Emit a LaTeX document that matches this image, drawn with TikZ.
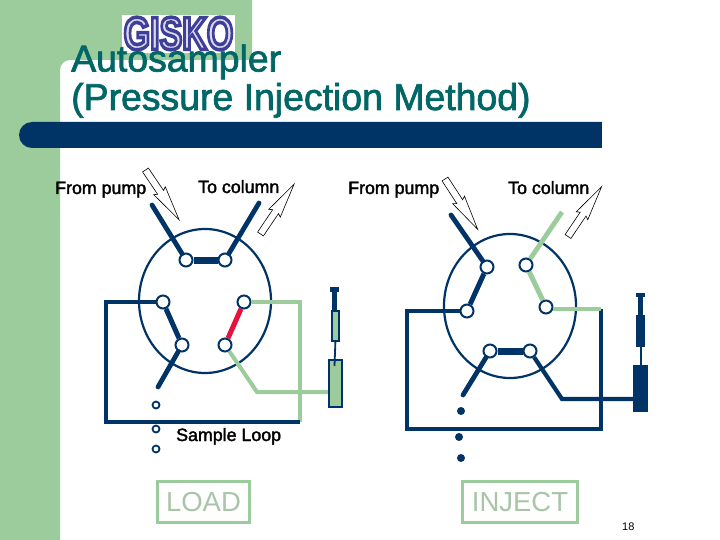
\documentclass[tikz,border=0pt]{standalone}
\usepackage{fontspec}
\usepackage{graphicx}
\setmainfont{Liberation Sans}
\definecolor{gr}{HTML}{9CCB9C}
\definecolor{nv}{HTML}{003366}
\definecolor{teal2}{HTML}{006666}
\definecolor{rd}{HTML}{E8103C}
\definecolor{lg}{HTML}{A9C4A9}
\definecolor{logoc}{HTML}{3F3F9A}
\newcommand{\hollowarrow}[3]{\draw[black,line width=.6pt,fill=white,shift={(#1,#2)},rotate=#3] (0,-3.5) -- (27,-3.5) -- (25,-7) -- (60,0) -- (25,7) -- (27,3.5) -- (0,3.5) -- cycle;}
\newcommand{\strokeblack}[1]{\special{pdf:code 2 Tr 0.35 w 0 0 0 RG 0 0 0 rg}#1\special{pdf:code 0 Tr 1 w}}
\newcommand{\stroketeal}[1]{\special{pdf:code 2 Tr 0.7 w 0 0.4 0.4 RG 0 0.4 0.4 rg}#1\special{pdf:code 0 Tr 1 w}}
\tikzset{
 port/.style={circle,draw=nv,fill=white,line width=2pt,minimum size=13pt,inner sep=0pt},
 tiny/.style={circle,draw=nv,fill=white,line width=1.8pt,minimum size=7pt,inner sep=0pt},
 dotn/.style={circle,fill=nv,minimum size=8pt,inner sep=0pt},
 valve/.style={ellipse,draw=nv,line width=2.2pt,minimum width=132pt,minimum height=144pt,inner sep=0pt},
 lab/.style={font=\fontsize{17.8}{20}\selectfont,inner sep=0pt,anchor=base west,text=black},
 wn/.style={draw=nv,line width=4.2pt},
 wg/.style={draw=gr,line width=4pt},
 stub/.style={draw=nv,line width=4.8pt,line cap=round},
 stubg/.style={draw=gr,line width=4.8pt},
 arm/.style={draw=nv,line width=5pt},
 armg/.style={draw=gr,line width=5pt},
 bar/.style={draw=nv,line width=7pt},
 modebox/.style={draw=gr,line width=3pt,fill=white,text=lg,font=\fontsize{27.5}{30}\selectfont,inner sep=0pt,anchor=north west},
 partn/.style={rectangle,fill=nv,inner sep=0pt,anchor=north west},
 partg/.style={rectangle,draw=nv,fill=gr,line width=1.8pt,inner sep=0pt,anchor=north west},
}
\usetikzlibrary{shapes.geometric}
\begin{document}
\begin{tikzpicture}[x=1pt,y=-1pt]
\useasboundingbox (0,0) rectangle (720,540);
\fill[white] (0,0) rectangle (720,540);
% background
\fill[gr,rounded corners=10pt] (-20,-20) -- (252,-20) -- (252,60) -- (60,60) -- (60,560) -- (-20,560) -- cycle;
\fill[gr] (-20,-20) rectangle (252,40);
\fill[gr] (252,-20) rectangle (100,60);
\fill[gr] (0,0) rectangle (60,540);
\fill[nv,rounded corners=13pt] (19,122) rectangle (640,148);
\fill[white] (602,120) rectangle (650,150);
% logo
\node[fill=white,minimum width=113pt,minimum height=38pt,inner sep=0pt] (logobg) at (178.5,34) {};
\node[inner sep=0pt,text=logoc] (logo) at (178.5,33.5) {\scalebox{0.74}[1]{\special{pdf:code 2 Tr 3.6 w 0.247 0.247 0.604 RG 0.85 0.85 0.92 rg}\fontsize{46}{46}\selectfont\bfseries GISKO\special{pdf:code 0 Tr 1 w}}};
% title
\node[inner sep=0pt,anchor=base west,align=left,text=teal2,font=\fontsize{37.4}{38.5}\selectfont] (title) at (71,110) {\stroketeal{Autosampler}\\\stroketeal{(Pressure Injection Method)}};
% LEFT valve
\node[valve] (v1) at (205,301) {};
\node[port] (a1) at (186,260) {};
\node[port] (a2) at (225,260) {};
\node[port] (a3) at (163,302) {};
\node[port] (a4) at (244,302) {};
\node[port] (a5) at (182,345) {};
\node[port] (a6) at (225,345) {};
\coordinate (as1) at (152,205);
\coordinate (as2) at (259,203);
\coordinate (as5) at (158,387);
\coordinate (al1) at (106,302);
\coordinate (al2) at (106,422);
\coordinate (al3) at (300,422);
\coordinate (al4) at (300,302);
\coordinate (ag1) at (257,392);
\coordinate (ag2) at (328,392);
\draw[stub] (as1) -- (a1);
\draw[stub] (as2) -- (a2);
\draw[bar] (a1) -- (a2);
\draw[arm] (a3) -- (a5);
\draw[draw=rd,line width=5pt] (a4) -- (a6);
\draw[stub] (a5) -- (as5);
\draw[wg,line join=miter] (a4) -- (al4) -- (al3);
\draw[wn,line join=miter] (a3) -- (al1) -- (al2) -- (al3);
\draw[wg,line join=miter] (a6) -- (ag1) -- (ag2);
% left syringe
\node[partn,minimum width=9pt,minimum height=5pt] (s1a) at (330,287) {};
\node[partn,minimum width=5pt,minimum height=18pt] (s1b) at (332,292) {};
\node[partg,minimum width=7pt,minimum height=30pt] (s1c) at (331,310) {};
\node[partg,minimum width=13pt,minimum height=47pt] (s1d) at (328,359) {};
\coordinate (s1e) at (334.5,366);
\draw[draw=nv,line width=1.8pt] (s1c.south) -- (s1e);
\node[tiny] (t1) at (156,405) {};
\node[tiny] (t2) at (156,429) {};
\node[tiny] (t3) at (156,449) {};
\node[lab] (sl) at (176,441) {\strokeblack{Sample Loop}};
\node[modebox,minimum width=92pt,minimum height=41pt] (load) at (156,480) {LOAD};
% RIGHT valve
\node[valve] (v2) at (510,306) {};
\node[port] (b1) at (487,267) {};
\node[port] (b2) at (526,265) {};
\node[port] (b3) at (467,311) {};
\node[port] (b4) at (546,307) {};
\node[port] (b5) at (490,351) {};
\node[port] (b6) at (530,351) {};
\coordinate (bs1) at (451,215);
\coordinate (bs2) at (562,212);
\coordinate (bs5) at (463,395);
\coordinate (bs6) at (562,399);
\coordinate (bs7) at (633,399);
\coordinate (bl1) at (407,311);
\coordinate (bl2) at (407,429);
\coordinate (bl3) at (601,429);
\coordinate (bl4) at (601,309);
\coordinate (bg4) at (553,309);
\draw[stub] (bs1) -- (b1);
\draw[stubg] (bs2) -- (b2);
\draw[arm] (b1) -- (b3);
\draw[armg] (b2) -- (b4);
\draw[bar] (b5) -- (b6);
\draw[stub] (b5) -- (bs5);
\draw[wn,line join=miter] (b6) -- (bs6) -- (bs7);
\draw[wn,line join=miter] (b3) -- (bl1) -- (bl2) -- (bl3) -- (bl4);
\draw[wg] (bg4) -- (bl4);
% right syringe
\node[partn,minimum width=9pt,minimum height=4pt] (s2a) at (636,293) {};
\node[partn,minimum width=5pt,minimum height=18pt] (s2b) at (638,297) {};
\node[partn,minimum width=9pt,minimum height=32pt] (s2c) at (636,315) {};
\node[partn,minimum width=15pt,minimum height=47pt] (s2d) at (633,365) {};
\draw[draw=nv,line width=1.8pt] (s2c.south) -- (s2d.north);
\node[dotn] (d1) at (461,411) {};
\node[dotn] (d2) at (459,437) {};
\node[dotn] (d3) at (461,458) {};
\node[modebox,minimum width=115pt,minimum height=41pt] (inj) at (461,480) {INJECT};
% labels
\node[lab] (fp1) at (55,194) {\strokeblack{From pump}};
\node[lab] (tc1) at (198,193) {\strokeblack{To column}};
\node[lab] (fp2) at (348,194) {\strokeblack{From pump}};
\node[lab] (tc2) at (508,194) {\strokeblack{To column}};
\node[lab,font=\fontsize{11}{12}\selectfont] (pg) at (622,530) {18};
% hollow arrows
\hollowarrow{145.5}{170}{-56}
\hollowarrow{260.5}{234}{56}
\hollowarrow{445}{179}{-57}
\hollowarrow{568}{236.5}{56}
\end{tikzpicture}
\end{document}
